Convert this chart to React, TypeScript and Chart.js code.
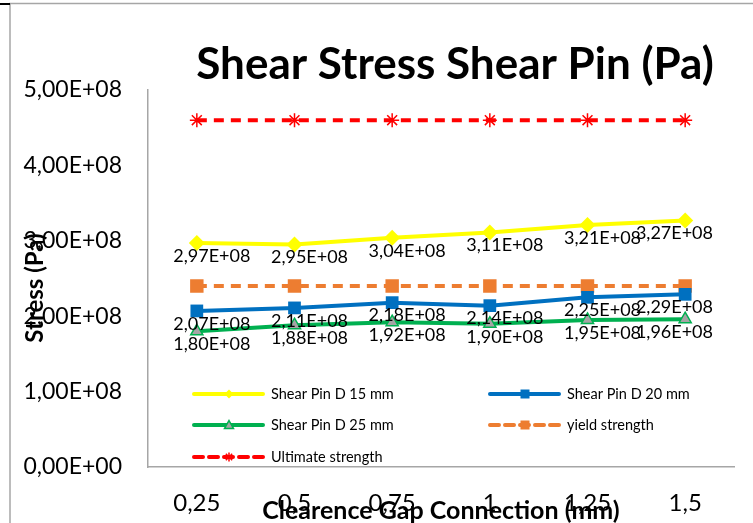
import React, { useEffect, useRef } from "react";
import { Chart, registerables } from "chart.js";

Chart.register(...registerables);

const categories = ["0,25", "0,5", "0,75", "1", "1,25", "1,5"];
const pinD15 = [2.97e8, 2.95e8, 3.04e8, 3.11e8, 3.21e8, 3.27e8];
const pinD20 = [2.07e8, 2.11e8, 2.18e8, 2.14e8, 2.25e8, 2.29e8];
const pinD25 = [1.8e8, 1.88e8, 1.92e8, 1.9e8, 1.95e8, 1.96e8];
const yieldStrength = [2.4e8, 2.4e8, 2.4e8, 2.4e8, 2.4e8, 2.4e8];
const ultimateStrength = [4.6e8, 4.6e8, 4.6e8, 4.6e8, 4.6e8, 4.6e8];
const seriesNames = [
  "Shear Pin D 15 mm",
  "Shear Pin D 20 mm",
  "Shear Pin D 25 mm",
  "yield strength",
  "Ultimate strength",
];
const yMin = 0;
const yMax = 5e8;
const yStep = 1e8;
const titleText = "Shear Stress Shear Pin (Pa)";
const xTitle = "Clearence Gap Connection (mm)";
const yTitle = "Stress (Pa)";

const FONT = "Lato, 'Open Sans', sans-serif";

function fmtE(v: number): string {
  if (v === 0) return "0,00E+00";
  let e = Math.floor(Math.log10(Math.abs(v)) + 1e-9);
  let m = v / Math.pow(10, e);
  let s = m.toFixed(2);
  if (s === "10.00") {
    e += 1;
    s = "1.00";
  }
  return s.replace(".", ",") + "E" + (e >= 0 ? "+" : "-") + String(Math.abs(e)).padStart(2, "0");
}

function drawMarker(ctx: CanvasRenderingContext2D, style: string, x: number, y: number, r: number, fill: string, stroke: string, lw: number) {
  ctx.save();
  ctx.setLineDash([]);
  ctx.fillStyle = fill;
  ctx.strokeStyle = stroke;
  ctx.lineWidth = lw;
  ctx.beginPath();
  if (style === "diamond") {
    ctx.moveTo(x, y - r);
    ctx.lineTo(x + r, y);
    ctx.lineTo(x, y + r);
    ctx.lineTo(x - r, y);
    ctx.closePath();
    ctx.fill();
  } else if (style === "square") {
    ctx.rect(x - r, y - r, 2 * r, 2 * r);
    ctx.fill();
  } else if (style === "triangle") {
    ctx.moveTo(x, y - r);
    ctx.lineTo(x + r, y + r * 0.8);
    ctx.lineTo(x - r, y + r * 0.8);
    ctx.closePath();
    ctx.fill();
    ctx.stroke();
  } else if (style === "star") {
    for (let i = 0; i < 4; i++) {
      const a = (i * Math.PI) / 4;
      ctx.moveTo(x - Math.cos(a) * r, y - Math.sin(a) * r);
      ctx.lineTo(x + Math.cos(a) * r, y + Math.sin(a) * r);
    }
    ctx.stroke();
  }
  ctx.restore();
}

const legendItems = [
  { name: seriesNames[0], color: "#FFFF00", dash: [] as number[], width: 4, marker: "diamond", fill: "#FFFF00", stroke: "#FFFF00", mr: 4.5, col: 0, row: 0 },
  { name: seriesNames[1], color: "#0070C0", dash: [], width: 4, marker: "square", fill: "#0070C0", stroke: "#0070C0", mr: 4.5, col: 1, row: 0 },
  { name: seriesNames[2], color: "#00B050", dash: [], width: 4, marker: "triangle", fill: "#A5A5A5", stroke: "#00B050", mr: 4.5, col: 0, row: 1 },
  { name: seriesNames[3], color: "#ED7D31", dash: [9, 6], width: 4, marker: "square", fill: "#ED7D31", stroke: "#ED7D31", mr: 4.5, col: 1, row: 1 },
  { name: seriesNames[4], color: "#FF0000", dash: [9, 6], width: 4, marker: "star", fill: "#FF0000", stroke: "#FF0000", mr: 4.5, col: 0, row: 2 },
];

const decorPlugin = {
  id: "decor",
  afterDraw(chart: any) {
    const ctx: CanvasRenderingContext2D = chart.ctx;
    const area = chart.chartArea;
    ctx.save();

    // outer frame
    ctx.strokeStyle = "#A6A6A6";
    ctx.lineWidth = 1.5;
    ctx.beginPath();
    ctx.moveTo(10, 523);
    ctx.lineTo(10, 3.5);
    ctx.lineTo(753, 3.5);
    ctx.stroke();
    ctx.strokeStyle = "#000000";
    ctx.lineWidth = 2;
    ctx.beginPath();
    ctx.moveTo(0, 4);
    ctx.lineTo(10, 4);
    ctx.stroke();

    // title
    ctx.fillStyle = "#000";
    ctx.font = `bold 44px ${FONT}`;
    ctx.textAlign = "center";
    ctx.textBaseline = "alphabetic";
    ctx.fillText(titleText, 455, 79);

    // axis titles
    ctx.font = `bold 25px ${FONT}`;
    ctx.textBaseline = "middle";
    ctx.fillText(xTitle, 441, 511);
    ctx.save();
    ctx.translate(35, 288);
    ctx.rotate(-Math.PI / 2);
    ctx.font = `bold 24px ${FONT}`;
    ctx.fillText(yTitle, 0, 0);
    ctx.restore();

    // data labels
    ctx.font = `18px ${FONT}`;
    ctx.fillStyle = "#000";
    ctx.textAlign = "center";
    ctx.textBaseline = "middle";
    [0, 1, 2].forEach((di) => {
      const meta = chart.getDatasetMeta(di);
      const data = chart.data.datasets[di].data as number[];
      meta.data.forEach((pt: any, i: number) => {
        const txt = fmtE(data[i]);
        const w = ctx.measureText(txt).width;
        let cx = pt.x + 15;
        if (cx + w / 2 > area.right - 21) cx = area.right - 21 - w / 2;
        ctx.fillText(txt, cx, pt.y + 13);
      });
    });

    // legend
    const colX = [194, 490];
    const rowY = [394, 425, 457];
    ctx.font = `14.5px ${FONT}`;
    legendItems.forEach((it) => {
      const x0 = colX[it.col];
      const y = rowY[it.row];
      ctx.save();
      ctx.strokeStyle = it.color;
      ctx.lineWidth = it.width;
      ctx.lineCap = "round";
      ctx.setLineDash(it.dash);
      ctx.beginPath();
      ctx.moveTo(x0, y);
      ctx.lineTo(x0 + 69, y);
      ctx.stroke();
      ctx.restore();
      drawMarker(ctx, it.marker, x0 + 35, y, it.mr, it.fill, it.stroke, 1.5);
      ctx.fillStyle = "#000";
      ctx.textAlign = "left";
      ctx.textBaseline = "middle";
      ctx.fillText(it.name, x0 + 77, y);
    });

    ctx.restore();
  },
};

export default function App() {
  const ref = useRef<HTMLCanvasElement | null>(null);

  useEffect(() => {
    if (!ref.current) return;
    const chart = new Chart(ref.current, {
      type: "line",
      data: {
        labels: categories,
        datasets: [
          {
            label: seriesNames[0],
            data: pinD15,
            borderColor: "#FFFF00",
            backgroundColor: "#FFFF00",
            borderWidth: 4,
            pointStyle: "rectRot",
            pointRadius: 8,
            pointBorderWidth: 0,
            order: 0,
          },
          {
            label: seriesNames[1],
            data: pinD20,
            borderColor: "#0070C0",
            backgroundColor: "#0070C0",
            borderWidth: 4,
            pointStyle: "rect",
            pointRadius: 9,
            pointBorderWidth: 0,
            order: 1,
          },
          {
            label: seriesNames[2],
            data: pinD25,
            borderColor: "#00B050",
            backgroundColor: "#A5A5A5",
            pointBorderColor: "#00B050",
            borderWidth: 4,
            pointStyle: "triangle",
            pointRadius: 7,
            pointBorderWidth: 1.5,
            order: 2,
          },
          {
            label: seriesNames[3],
            data: yieldStrength,
            borderColor: "#ED7D31",
            backgroundColor: "#ED7D31",
            borderWidth: 4,
            borderDash: [10, 7],
            pointStyle: "rect",
            pointRadius: 9.5,
            pointBorderWidth: 0,
            order: 3,
          },
          {
            label: seriesNames[4],
            data: ultimateStrength,
            borderColor: "#FF0000",
            backgroundColor: "#FF0000",
            pointBorderColor: "#FF0000",
            borderWidth: 4,
            borderDash: [10, 7],
            pointStyle: "star",
            pointRadius: 7,
            pointBorderWidth: 1.5,
            order: 4,
          },
        ],
      },
      options: {
        responsive: false,
        animation: false,
        layout: { padding: { top: 90, right: 19, left: 0, bottom: 0 } },
        plugins: {
          legend: { display: false },
          title: { display: false },
          tooltip: { enabled: false },
        },
        scales: {
          x: {
            offset: true,
            grid: { display: false, drawTicks: false },
            border: { display: true, color: "#A6A6A6", width: 1.5 },
            ticks: {
              color: "#000",
              font: { family: FONT, size: 24 },
              padding: 22,
              maxRotation: 0,
              autoSkip: false,
            },
            afterFit: (s: any) => {
              s.height = 56;
            },
          },
          y: {
            min: yMin,
            max: yMax,
            grid: { display: false, drawTicks: false },
            border: { display: true, color: "#A6A6A6", width: 1.5 },
            ticks: {
              stepSize: yStep,
              color: "#000",
              font: { family: FONT, size: 23 },
              padding: 26,
              callback: (v: any) => fmtE(Number(v)),
            },
            afterFit: (s: any) => {
              s.width = 148;
            },
          },
        },
      },
      plugins: [decorPlugin],
    });
    return () => chart.destroy();
  }, []);

  return (
    <div style={{ position: "fixed", left: 0, top: 0, width: 753, height: 523, background: "#fff" }}>
      <canvas ref={ref} width={753} height={523} style={{ width: 753, height: 523, display: "block" }} />
    </div>
  );
}
